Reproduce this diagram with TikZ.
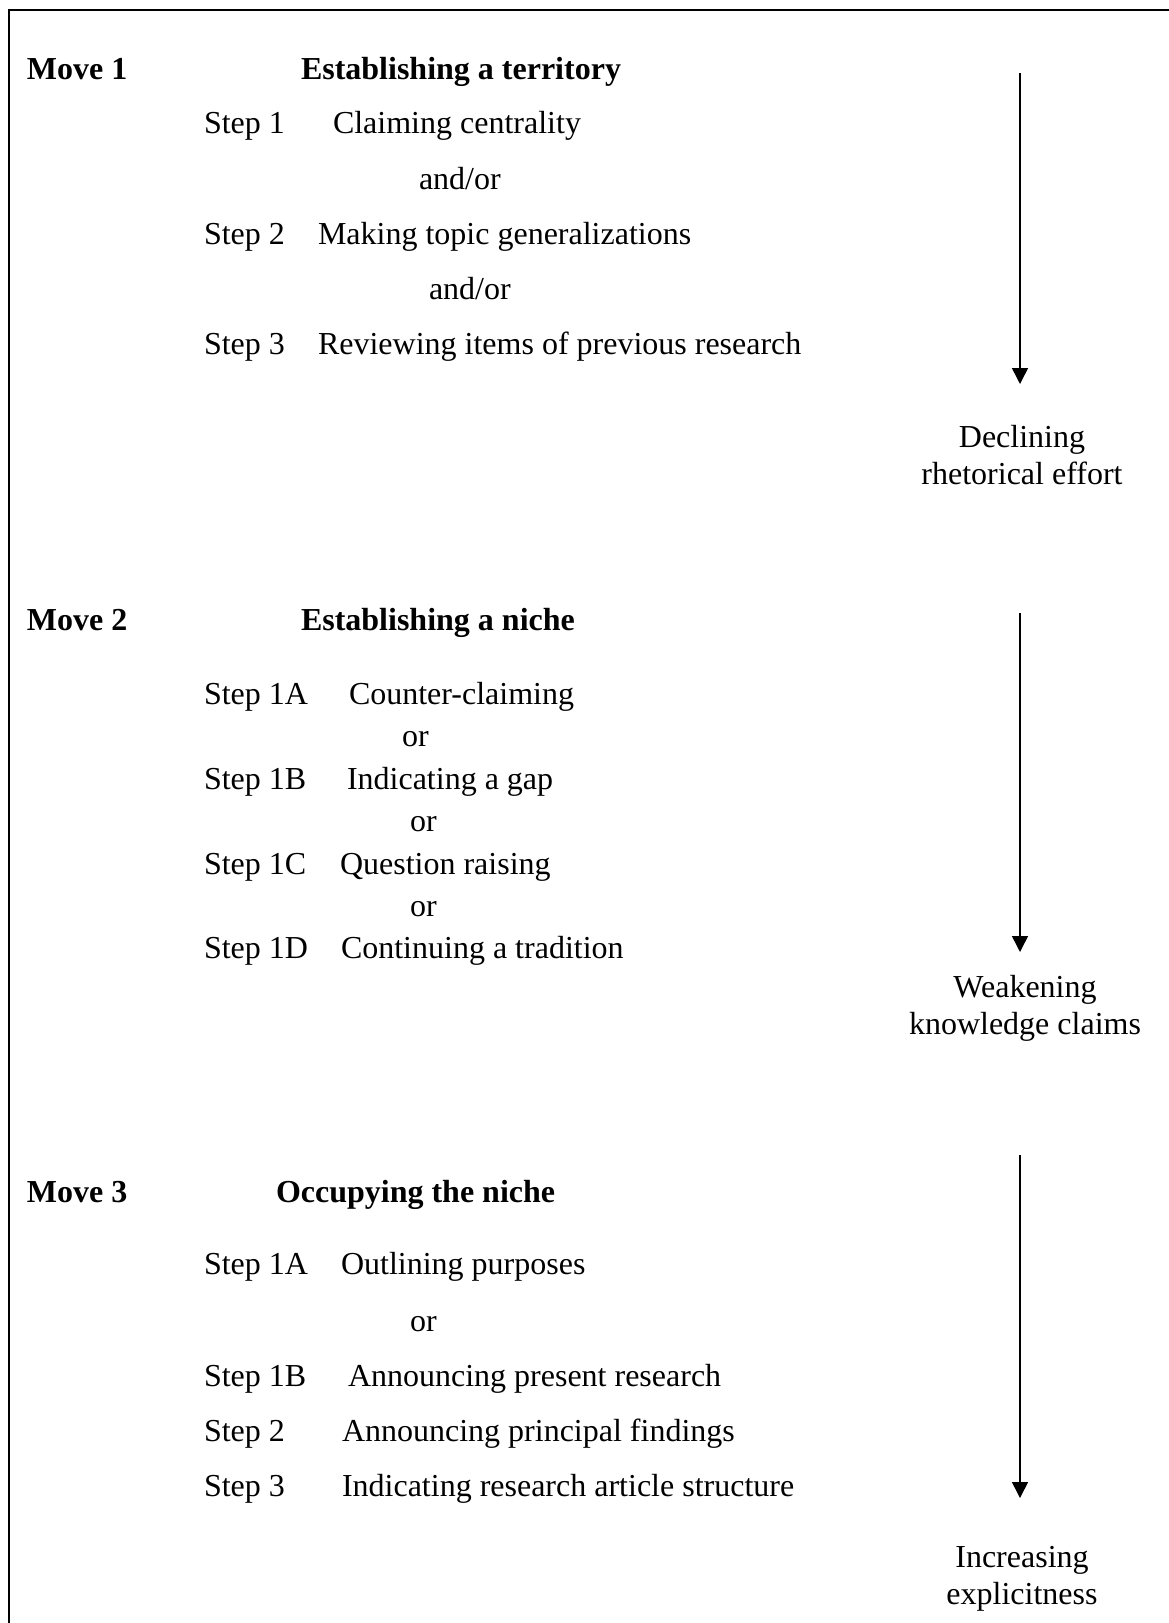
\documentclass[tikz,border=0pt]{standalone}
\usepackage{fontspec}
\setmainfont{Liberation Serif}
\usetikzlibrary{arrows.meta}
\begin{document}
\begin{tikzpicture}[x=1pt,y=-1pt,
  every node/.style={inner sep=0pt,outer sep=0pt,font=\fontsize{32}{37}\selectfont},
  txt/.style={anchor=base west},
  movelbl/.style={anchor=base west,font=\fontsize{32}{37}\selectfont\bfseries},
  side/.style={align=center,anchor=center},
  flow/.style={line width=1.5pt,-{Triangle[length=16pt,width=16pt]}}]
\useasboundingbox (0,0) rectangle (1168,1623);
\fill[white] (0,0) rectangle (1168,1623);
% frame
\draw[line width=2.2pt] (9,1630) -- (9,10) -- (1175,10);

% Move 1
\node[movelbl] (m1) at (27,79) {Move 1};
\node[movelbl] (m1h) at (301,79) {Establishing a territory};
\node[txt] (m1s1) at (204,133) {Step 1};
\node[txt] (m1t1) at (333,133) {Claiming centrality};
\node[txt] (m1o1) at (419,189) {and/or};
\node[txt] (m1s2) at (204,244) {Step 2};
\node[txt] (m1t2) at (318,244) {Making topic generalizations};
\node[txt] (m1o2) at (429,299) {and/or};
\node[txt] (m1s3) at (204,354) {Step 3};
\node[txt] (m1t3) at (318,354) {Reviewing items of previous research};
\coordinate (a1s) at (1020,73);
\coordinate (a1e) at (1020,384);
\draw[flow] (a1s) -- (a1e);
\node[side] (d1) at (1022,455) {Declining\\rhetorical effort};

% Move 2
\node[movelbl] (m2) at (27,630) {Move 2};
\node[movelbl] (m2h) at (301,630) {Establishing a niche};
\node[txt] (m2sa) at (204,704) {Step 1A};
\node[txt] (m2ta) at (349,704) {Counter-claiming};
\node[txt] (m2oa) at (402,746) {or};
\node[txt] (m2sb) at (204,789) {Step 1B};
\node[txt] (m2tb) at (347,789) {Indicating a gap};
\node[txt] (m2ob) at (410,831) {or};
\node[txt] (m2sc) at (204,874) {Step 1C};
\node[txt] (m2tc) at (340,874) {Question raising};
\node[txt] (m2oc) at (410,916) {or};
\node[txt] (m2sd) at (204,958) {Step 1D};
\node[txt] (m2td) at (341,958) {Continuing a tradition};
\coordinate (a2s) at (1020,613);
\coordinate (a2e) at (1020,952);
\draw[flow] (a2s) -- (a2e);
\node[side] (d2) at (1025,1008) {Weakening\\knowledge claims};

% Move 3
\node[movelbl] (m3) at (27,1202) {Move 3};
\node[movelbl] (m3h) at (276,1202) {Occupying the niche};
\node[txt] (m3sa) at (204,1274) {Step 1A};
\node[txt] (m3ta) at (341,1274) {Outlining purposes};
\node[txt] (m3oa) at (410,1331) {or};
\node[txt] (m3sb) at (204,1386) {Step 1B};
\node[txt] (m3tb) at (348,1386) {Announcing present research};
\node[txt] (m3s2) at (204,1441) {Step 2};
\node[txt] (m3t2) at (342,1441) {Announcing principal findings};
\node[txt] (m3s3) at (204,1496) {Step 3};
\node[txt] (m3t3) at (342,1496) {Indicating research article structure};
\coordinate (a3s) at (1020,1155);
\coordinate (a3e) at (1020,1498);
\draw[flow] (a3s) -- (a3e);
\node[side] (d3) at (1022,1579) {Increasing\\explicitness};
\end{tikzpicture}
\end{document}
